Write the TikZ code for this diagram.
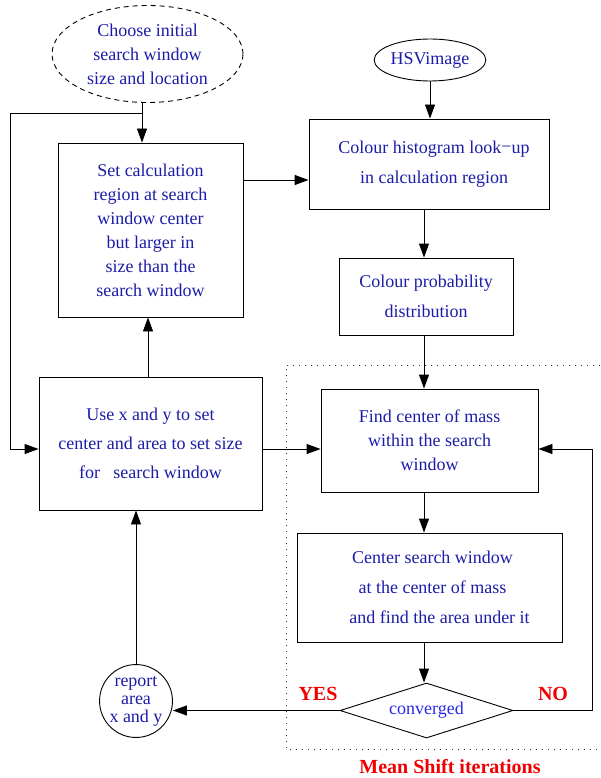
\documentclass[tikz,border=0pt]{standalone}
\usepackage{fontspec}
\setmainfont{Liberation Serif}
\usetikzlibrary{shapes.geometric,arrows.meta}
\definecolor{txtblue}{RGB}{28,28,168}
\definecolor{convblue}{RGB}{40,40,235}
\definecolor{lblred}{RGB}{240,0,0}
\tikzset{
  base/.style={draw=black, line width=0.9pt, text=txtblue, align=center, inner sep=0pt,
               font=\fontsize{18}{24}\selectfont},
  procbox/.style={base, rectangle},
  wide/.style={font=\fontsize{18}{30}\selectfont},
  arr/.style={line width=0.9pt, -{Triangle[length=14pt,width=10pt]}},
  conn/.style={line width=0.9pt},
  lbl/.style={text=lblred, font=\fontsize{20}{24}\selectfont\bfseries}
}
\begin{document}
\begin{tikzpicture}[x=1pt,y=-1pt]
\useasboundingbox (0,0) rectangle (600,778);

% Mean shift iteration frame (open on the right)
\draw[line width=0.8pt, dash pattern=on 1pt off 5pt, draw=black!80]
  (600,365) -- (286,365) -- (286,749) -- (600,749);

% nodes
\node[base, ellipse, dash pattern=on 5pt off 4pt, minimum width=191pt, minimum height=97pt] (choose) at (147.5,54)
  {Choose initial\\search window\\size and location};
\node[procbox, minimum width=185pt, minimum height=174pt] (setcalc) at (150.5,230)
  {Set calculation\\region at search\\window center\\but larger in\\size than the\\search window};
\node[base, ellipse, minimum width=96pt, minimum height=42pt] (hsv) at (430,60) {HSVimage};
\node[procbox, wide, minimum width=240pt, minimum height=90pt] (hist) at (429,164)
  {\hspace*{10pt}Colour histogram look\raisebox{0.1ex}{−}up\\\hspace*{10pt}in calculation region};
\node[procbox, wide, minimum width=174pt, minimum height=77pt] (prob) at (426,296.5)
  {Colour probability\\distribution};
\node[procbox, minimum width=217pt, minimum height=103pt] (find) at (429.5,440.5)
  {Find center of mass\\within the search\\window};
\node[procbox, wide, minimum width=265pt, minimum height=109pt] (centre) at (429.5,587.5)
  {\hspace*{6pt}Center search window\\\hspace*{6pt}at the center of mass\\\hspace*{20pt}and find the area under it};
\node[base, diamond, aspect=3.15, minimum width=173pt, minimum height=55pt, text=convblue] (conv)
  at (426.5,710.5) {converged};
\node[procbox, font=\fontsize{18}{29}\selectfont, minimum width=223pt, minimum height=133pt] (use)
  at (150.5,443.5) {Use x and y to set\\center and area to set size\\for\ \ \ search window};
\node[base, circle, minimum size=72pt, font=\fontsize{18}{18}\selectfont] (report) at (136,701)
  {report\\area\\x and y};

% labels
\node[lbl] (yes) at (318,694) {YES};
\node[lbl] (no) at (553,694) {NO};
\node[lbl] (msi) at (450,767) {Mean Shift iterations};

% routing coordinates
\coordinate (spine) at (424,0);
\coordinate (loopl) at (10,113);
\coordinate (rowuse) at (0,449);
\coordinate (rowhist) at (0,180);
\coordinate (noturn) at (592,0);
\coordinate (upx) at (148,0);
\coordinate (downx) at (142,0);

% connectors
\draw[arr] (downx |- choose.south) -- (downx |- setcalc.north);
\draw[conn] (loopl) -- (downx |- loopl);
\draw[arr] (loopl) |- (use.west |- rowuse);
\draw[arr] (setcalc.east |- rowhist) -- (hist.west |- rowhist);
\draw[arr] (hsv.south) -- (hsv.south |- hist.north);
\draw[arr] (spine |- hist.south) -- (spine |- prob.north);
\draw[arr] (spine |- prob.south) -- (spine |- find.north);
\draw[arr] (spine |- find.south) -- (spine |- centre.north);
\draw[arr] (spine |- centre.south) -- (spine |- conv.north);
\draw[arr] (use.east |- rowuse) -- (find.west |- rowuse);
\draw[arr] (conv.east) -| (noturn |- rowuse) -- (find.east |- rowuse);
\draw[arr] (conv.west) -- (conv.west -| report.east);
\draw[arr] (report.north) -- (report.north |- use.south);
\draw[arr] (upx |- use.north) -- (upx |- setcalc.south);
\end{tikzpicture}
\end{document}
